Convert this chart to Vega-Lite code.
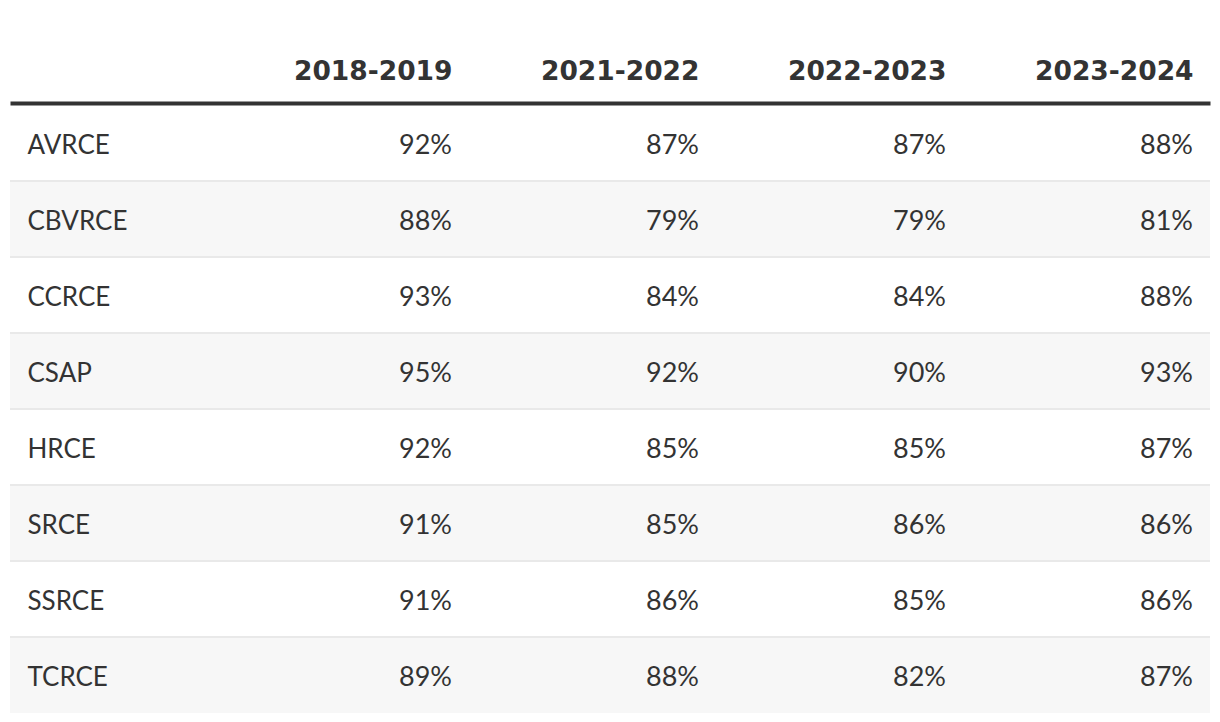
{
  "$schema": "https://vega.github.io/schema/vega-lite/v6.json",
  "width": 1200,
  "height": 608,
  "autosize": "none",
  "padding": {"left": 10, "top": 105, "right": 10, "bottom": 9},
  "background": "white",
  "config": {"view": {"stroke": null}},
  "data": {"values": [
    {"org": "AVRCE", "year": "2018-2019", "value": 0.92},
    {"org": "AVRCE", "year": "2021-2022", "value": 0.87},
    {"org": "AVRCE", "year": "2022-2023", "value": 0.87},
    {"org": "AVRCE", "year": "2023-2024", "value": 0.88},
    {"org": "CBVRCE", "year": "2018-2019", "value": 0.88},
    {"org": "CBVRCE", "year": "2021-2022", "value": 0.79},
    {"org": "CBVRCE", "year": "2022-2023", "value": 0.79},
    {"org": "CBVRCE", "year": "2023-2024", "value": 0.81},
    {"org": "CCRCE", "year": "2018-2019", "value": 0.93},
    {"org": "CCRCE", "year": "2021-2022", "value": 0.84},
    {"org": "CCRCE", "year": "2022-2023", "value": 0.84},
    {"org": "CCRCE", "year": "2023-2024", "value": 0.88},
    {"org": "CSAP", "year": "2018-2019", "value": 0.95},
    {"org": "CSAP", "year": "2021-2022", "value": 0.92},
    {"org": "CSAP", "year": "2022-2023", "value": 0.90},
    {"org": "CSAP", "year": "2023-2024", "value": 0.93},
    {"org": "HRCE", "year": "2018-2019", "value": 0.92},
    {"org": "HRCE", "year": "2021-2022", "value": 0.85},
    {"org": "HRCE", "year": "2022-2023", "value": 0.85},
    {"org": "HRCE", "year": "2023-2024", "value": 0.87},
    {"org": "SRCE", "year": "2018-2019", "value": 0.91},
    {"org": "SRCE", "year": "2021-2022", "value": 0.85},
    {"org": "SRCE", "year": "2022-2023", "value": 0.86},
    {"org": "SRCE", "year": "2023-2024", "value": 0.86},
    {"org": "SSRCE", "year": "2018-2019", "value": 0.91},
    {"org": "SSRCE", "year": "2021-2022", "value": 0.86},
    {"org": "SSRCE", "year": "2022-2023", "value": 0.85},
    {"org": "SSRCE", "year": "2023-2024", "value": 0.86},
    {"org": "TCRCE", "year": "2018-2019", "value": 0.89},
    {"org": "TCRCE", "year": "2021-2022", "value": 0.88},
    {"org": "TCRCE", "year": "2022-2023", "value": 0.82},
    {"org": "TCRCE", "year": "2023-2024", "value": 0.87}
  ]},
  "encoding": {
    "y": {
      "field": "org",
      "type": "nominal",
      "scale": {
        "type": "band",
        "domain": ["AVRCE", "CBVRCE", "CCRCE", "CSAP", "HRCE", "SRCE", "SSRCE", "TCRCE"],
        "paddingInner": 0,
        "paddingOuter": 0
      },
      "axis": {
        "title": null,
        "orient": "left",
        "domain": false,
        "ticks": false,
        "tickSize": 0,
        "labelAlign": "left",
        "labelBaseline": "middle",
        "labelPadding": -17,
        "labelOffset": 3,
        "labelFont": "Lato",
        "labelFontSize": 26,
        "labelColor": "#333333",
        "zindex": 2
      }
    }
  },
  "layer": [
    {
      "transform": [
        {"filter": {"field": "org", "oneOf": ["CBVRCE", "CSAP", "SRCE", "TCRCE"]}},
        {"filter": {"field": "year", "equal": "2018-2019"}}
      ],
      "mark": {"type": "rect", "color": "#f7f7f7"},
      "encoding": {}
    },
    {
      "transform": [
        {"filter": {"field": "org", "oneOf": ["CBVRCE", "CCRCE", "CSAP", "HRCE", "SRCE", "SSRCE", "TCRCE"]}},
        {"filter": {"field": "year", "equal": "2018-2019"}}
      ],
      "mark": {"type": "rule", "color": "#e9e9e9", "strokeWidth": 2},
      "encoding": {
        "y": {"field": "org", "type": "nominal", "bandPosition": 0}
      }
    },
    {
      "mark": {
        "type": "text",
        "align": "right",
        "baseline": "middle",
        "dy": 3,
        "font": "Lato",
        "fontSize": 27,
        "color": "#333333"
      },
      "encoding": {
        "x": {
          "field": "year",
          "type": "ordinal",
          "scale": {
            "type": "point",
            "domain": ["2018-2019", "2021-2022", "2022-2023", "2023-2024"],
            "padding": 0.929,
            "align": 0.963
          },
          "axis": {
            "title": null,
            "orient": "top",
            "ticks": false,
            "tickSize": 0,
            "domain": true,
            "domainWidth": 4,
            "domainColor": "#333333",
            "offset": 2,
            "labelAngle": 0,
            "labelAlign": "right",
            "labelBaseline": "alphabetic",
            "labelPadding": 24,
            "labelFont": "DejaVu Sans",
            "labelFontWeight": "bold",
            "labelFontSize": 26.5,
            "labelColor": "#333333"
          }
        },
        "text": {"field": "value", "type": "quantitative", "format": ".0%"}
      }
    }
  ]
}
